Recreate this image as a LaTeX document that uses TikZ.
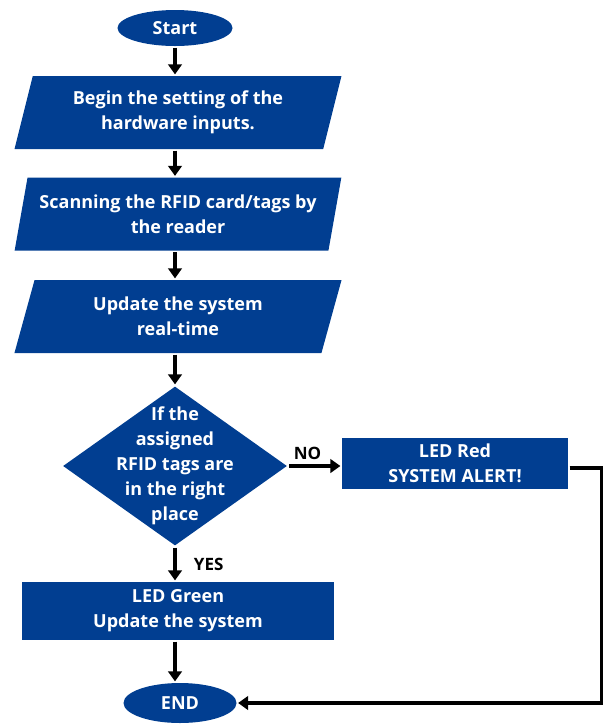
\documentclass[tikz,border=0pt]{standalone}
\usepackage{fontspec}
\setmainfont{Open Sans}
\usepackage{tikz}
\usetikzlibrary{positioning,shapes.geometric,arrows.meta,calc}
\definecolor{flowblue}{RGB}{1,62,145}
\tikzset{every picture/.style={>={Triangle[length=10pt,width=13.5pt]},line width=3.2pt}}
\tikzset{terminal/.style={ellipse,fill=flowblue,text=white,inner sep=0pt,font=\bfseries\fontsize{18}{21}\selectfont}}
\tikzset{io box/.style={trapezium,trapezium left angle=73,trapezium right angle=107,trapezium stretches=true,fill=flowblue,text=white,inner sep=0pt,minimum width=328pt,minimum height=73pt,align=center,font=\bfseries\fontsize{18}{25}\selectfont}}
\tikzset{process box/.style={rectangle,fill=flowblue,text=white,inner sep=0pt,align=center,font=\bfseries\fontsize{18}{25}\selectfont}}
\tikzset{decision box/.style={diamond,aspect=1.4,fill=flowblue,text=white,inner sep=-18pt,minimum width=225pt,minimum height=160pt,align=center,font=\bfseries\fontsize{18}{25}\selectfont}}
\tikzset{branch label/.style={font=\bfseries\fontsize{17}{19}\selectfont}}

\begin{document}
\begin{tikzpicture}[x=1pt,y=-1pt]
  \useasboundingbox (0,0) rectangle (605,724);
  % nodes
  \node[terminal,minimum width=115pt,minimum height=36pt] (start) at (175,28) {Start};
  \node[io box] (setup) at (178,112.5) {Begin the setting of the\\hardware inputs.};
  \node[io box] (scan) at (178,214) {Scanning the RFID card/tags by\\the reader};
  \node[io box] (update) at (178,316.5) {Update the system\\real-time};
  \node[decision box] (check) at (175,466) {If the\\assigned\\RFID tags are\\in the right\\place};
  \node[process box,minimum width=226pt,minimum height=51pt] (alert) at (455,463.5) {LED Red\\SYSTEM ALERT!};
  \node[process box,minimum width=312pt,minimum height=58pt] (green) at (178,611) {LED Green\\Update the system};
  \node[terminal,minimum width=113pt,minimum height=40pt] (end) at (180,703) {END};
  % connectors
  \draw[->] (start.south) -- (start.south |- setup.north);
  \draw[->] (start.south |- setup.south) -- (start.south |- scan.north);
  \draw[->] (start.south |- scan.south) -- (start.south |- update.north);
  \draw[->] (start.south |- update.south) -- (check.north);
  \draw[->] (check.east) -- (check.east -| alert.west)
    node[branch label,pos=0.36,above=1pt] {NO};
  \draw[->] (check.south) -- (check.south |- green.north)
    node[branch label,midway,right=14pt] {YES};
  \draw[->] (check.south |- green.south) -- (check.south |- end.north);
  \draw[->] ([yshift=-4.5pt]alert.east) -- ++(32,0) |- (end.east);
\end{tikzpicture}
\end{document}
